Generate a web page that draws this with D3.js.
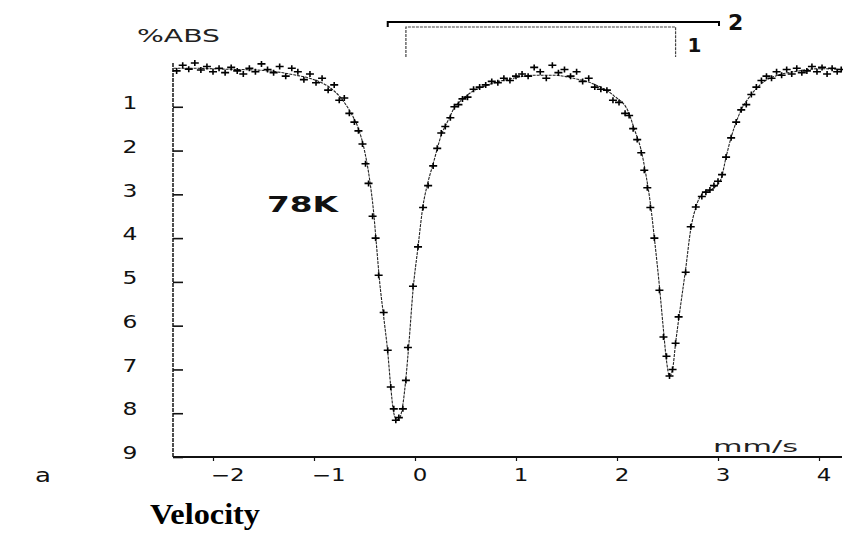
<!DOCTYPE html>
<html><head><meta charset="utf-8">
<script src="https://cdn.jsdelivr.net/npm/d3@7"></script>
<style>html,body{margin:0;padding:0;background:#fff;} svg{display:block;}</style>
</head><body>
<svg id="c" width="843" height="533"></svg>
<script>
// ---- data ----
const xTicks = [-2, -1, 0, 1, 2, 3, 4];
const yTicks = [1, 2, 3, 4, 5, 6, 7, 8, 9];

// fitted curve (velocity mm/s, % absorption)
const fitV = [-2.39,-2.2,-1.9,-1.5,-1.2,-1.0,-0.9,-0.8,-0.7,-0.62,-0.56,-0.5,-0.45,-0.41,-0.38,-0.35,-0.31,-0.27,-0.24,-0.21,-0.18,-0.15,-0.12,-0.09,-0.06,-0.02,0.03,0.08,0.12,0.18,0.26,0.33,0.39,0.46,0.55,0.72,0.95,1.18,1.38,1.57,1.77,1.97,2.11,2.17,2.24,2.29,2.33,2.37,2.42,2.46,2.49,2.52,2.55,2.58,2.62,2.68,2.73,2.78,2.84,2.96,3.03,3.08,3.13,3.18,3.23,3.31,3.43,3.59,3.75,4.0,4.24];
const fitA = [0.12,0.12,0.14,0.17,0.27,0.38,0.48,0.64,0.9,1.2,1.5,2.0,2.65,3.4,4.2,5.0,5.8,6.6,7.4,8.0,8.15,8.1,7.8,7.2,6.4,5.2,4.2,3.25,2.8,2.3,1.65,1.3,1.02,0.85,0.68,0.5,0.36,0.28,0.28,0.35,0.48,0.75,1.1,1.5,2.0,2.6,3.2,4.0,5.1,6.1,6.8,7.15,7.0,6.4,5.7,4.7,3.8,3.3,3.0,2.85,2.65,2.15,1.7,1.35,1.07,0.78,0.47,0.28,0.2,0.13,0.15];

// measured points
const dataV = [-2.36,-2.30,-2.24,-2.18,-2.12,-2.06,-2.0,-1.94,-1.88,-1.82,-1.76,-1.70,-1.64,-1.58,-1.52,-1.46,-1.40,-1.34,-1.28,-1.22,-1.16,-1.10,-1.04,-0.98,-0.92,-0.86,-0.80,-0.75,-0.70,-0.65,-0.60,-0.56,-0.52,-0.49,-0.46,-0.42,-0.39,-0.36,-0.31,-0.27,-0.24,-0.21,-0.19,-0.16,-0.12,-0.09,-0.07,-0.02,0.03,0.08,0.13,0.18,0.22,0.26,0.30,0.35,0.39,0.43,0.47,0.52,0.58,0.64,0.70,0.76,0.82,0.88,0.94,1.0,1.06,1.12,1.18,1.24,1.30,1.36,1.42,1.48,1.54,1.60,1.66,1.72,1.78,1.84,1.90,1.96,2.02,2.08,2.12,2.16,2.20,2.24,2.27,2.30,2.33,2.37,2.42,2.46,2.49,2.52,2.55,2.58,2.61,2.68,2.73,2.78,2.84,2.88,2.92,2.96,3.0,3.04,3.08,3.13,3.18,3.23,3.28,3.33,3.38,3.43,3.48,3.53,3.58,3.63,3.68,3.73,3.78,3.83,3.88,3.93,3.98,4.03,4.08,4.13,4.18,4.22];
const dataA = [0.18,0.05,0.14,0.0,0.16,0.08,0.2,0.12,0.22,0.1,0.18,0.25,0.12,0.2,0.02,0.15,0.22,0.08,0.3,0.12,0.2,0.38,0.25,0.45,0.35,0.62,0.5,0.85,0.8,1.15,1.35,1.55,1.85,2.3,2.75,3.5,4.0,4.85,5.7,6.56,7.4,7.9,8.16,8.1,7.9,7.25,6.5,5.1,4.2,3.3,2.8,2.35,1.95,1.6,1.45,1.25,1.0,0.95,0.82,0.78,0.6,0.55,0.5,0.42,0.45,0.35,0.4,0.3,0.25,0.3,0.1,0.2,0.35,0.05,0.22,0.15,0.3,0.2,0.42,0.35,0.55,0.6,0.62,0.85,0.9,1.15,1.2,1.5,1.75,2.05,2.45,2.85,3.3,4.0,5.19,6.26,6.7,7.15,7.0,6.4,5.8,4.78,3.74,3.29,3.05,2.95,2.9,2.8,2.7,2.55,2.15,1.71,1.35,1.07,0.95,0.72,0.55,0.4,0.3,0.35,0.2,0.28,0.15,0.25,0.12,0.22,0.18,0.08,0.2,0.1,0.25,0.12,0.2,0.15];

// site brackets
const siteNames = ["1", "2"];
const siteStart = [-0.09, -0.27];
const siteEnd = [2.58, 3.01];

// ---- drawing ----
const svg = d3.select("#c");
const FONT = "'DejaVu Sans', sans-serif";
const x = d3.scaleLinear().domain([-2, 4]).range([213, 819]);
const y = d3.scaleLinear().domain([0, 9]).range([63, 457]);
const xMin = x.invert(173), xMax = x.invert(842);

// y axis line
svg.append("line").attr("x1", x(xMin)).attr("x2", x(xMin)).attr("y1", y(0)).attr("y2", y(9))
  .attr("stroke", "#222").attr("stroke-width", 1.6).attr("stroke-dasharray", "4,1");

const yAxis = d3.axisLeft(y).tickValues(yTicks).tickSizeInner(-10).tickSizeOuter(0).tickPadding(0).tickFormat(d3.format("d"));
const gy = svg.append("g").attr("transform", `translate(${x(xMin)},0)`).call(yAxis);
gy.select(".domain").remove();
gy.selectAll(".tick line").attr("stroke", "#111").attr("stroke-width", 1.6);
gy.selectAll(".tick text").attr("x", 0).attr("y", -4).attr("text-anchor", "middle")
  .attr("transform", "translate(-43,0) scale(1.3,1)")
  .attr("font-family", FONT).attr("font-size", 18).attr("fill", "#111");

// x axis
svg.append("line").attr("x1", x(xMin)).attr("x2", x(xMax)).attr("y1", y(9)).attr("y2", y(9))
  .attr("stroke", "#111").attr("stroke-width", 2.2);
const xAxis = d3.axisBottom(x).tickValues(xTicks).tickSizeInner(4).tickSizeOuter(0).tickPadding(8).tickFormat(d3.format("d"));
const gx = svg.append("g").attr("transform", `translate(0,${y(9)})`).call(xAxis);
gx.select(".domain").remove();
gx.selectAll(".tick line").attr("stroke", "#111").attr("stroke-width", 1.2);
gx.selectAll(".tick text").attr("x", -2).attr("text-anchor", "start")
  .attr("transform", "scale(1.35,1)")
  .attr("font-family", FONT).attr("font-size", 17).attr("fill", "#111");

// fit line
const fit = fitV.map((v, i) => [v, fitA[i]]);
svg.append("path").datum(fit)
  .attr("d", d3.line().x(d => x(d[0])).y(d => y(d[1])).curve(d3.curveMonotoneX))
  .attr("fill", "none").attr("stroke", "#222").attr("stroke-width", 1.1).attr("stroke-dasharray", "3,1");

// data crosses
const pts = dataV.map((v, i) => [v, dataA[i]]);
svg.append("g").selectAll("path").data(pts).join("path")
  .attr("transform", d => `translate(${x(d[0])},${y(d[1])})`)
  .attr("d", "M-4,0H4M0,-3V3")
  .attr("stroke", "#000").attr("stroke-width", 1.6).attr("fill", "none");

// site brackets
const sites = siteNames.map((n, i) => ({ n, a: siteStart[i], b: siteEnd[i] }));
const s2 = sites[1], s1 = sites[0];
svg.append("path")
  .attr("d", `M${x(s2.a)},27V22H${x(s2.b)}V26`)
  .attr("fill", "none").attr("stroke", "#000").attr("stroke-width", 2);
svg.append("path")
  .attr("d", `M${x(s1.a)},57V27H${x(s1.b)}V57`)
  .attr("fill", "none").attr("stroke", "#444").attr("stroke-width", 1.2).attr("stroke-dasharray", "3,1");
svg.append("text").attr("x", x(s2.b) + 9).attr("y", 30).text(s2.n)
  .attr("font-family", FONT).attr("font-size", 22).attr("font-weight", "bold").attr("fill", "#111");
svg.append("text").attr("x", x(s1.b) + 12).attr("y", 52).text(s1.n)
  .attr("font-family", FONT).attr("font-size", 20).attr("font-weight", "bold").attr("fill", "#111");

// texts
svg.append("text").attr("x", 137).attr("y", 42).text("%ABS")
  .attr("font-family", FONT).attr("font-size", 18).attr("fill", "#222")
  .attr("textLength", 83).attr("lengthAdjust", "spacingAndGlyphs");
svg.append("text").attr("x", 267).attr("y", 212).text("78K")
  .attr("font-family", FONT).attr("font-size", 21).attr("font-weight", "bold").attr("fill", "#111")
  .attr("textLength", 71).attr("lengthAdjust", "spacingAndGlyphs");
svg.append("text").attr("x", 713).attr("y", 452).text("mm/s")
  .attr("font-family", FONT).attr("font-size", 16).attr("fill", "#222")
  .attr("textLength", 85).attr("lengthAdjust", "spacingAndGlyphs");
svg.append("text").attr("x", 35).attr("y", 482).text("a")
  .attr("font-family", FONT).attr("font-size", 19).attr("fill", "#111")
  .attr("textLength", 16).attr("lengthAdjust", "spacingAndGlyphs");
svg.append("text").attr("x", 150).attr("y", 524).text("Velocity")
  .attr("font-family", "'Liberation Serif', 'Times New Roman', serif").attr("font-size", 30)
  .attr("font-weight", "bold").attr("fill", "#000")
  .attr("textLength", 110).attr("lengthAdjust", "spacingAndGlyphs");
</script>
</body></html>
